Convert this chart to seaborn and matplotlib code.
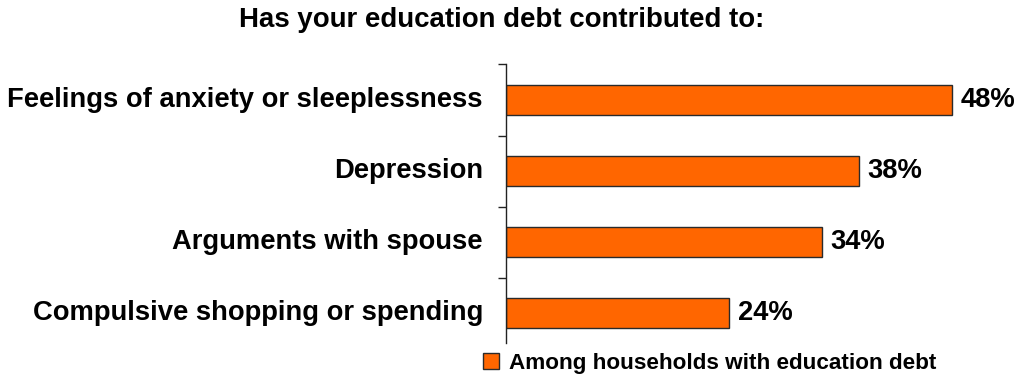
import matplotlib
matplotlib.use("Agg")
import matplotlib.pyplot as plt
import seaborn as sns
import pandas as pd
from matplotlib.patches import Patch

categories = [
    "Feelings of anxiety or sleeplessness",
    "Depression",
    "Arguments with spouse",
    "Compulsive shopping or spending",
]
values = [48, 38, 34, 24]
series_name = "Among households with education debt"
title = "Has your education debt contributed to:"

sns.set_theme(style="white")
plt.rcParams["font.family"] = ["Liberation Sans", "DejaVu Sans"]

df = pd.DataFrame({"category": categories, "value": values})

fig = plt.figure(figsize=(10.23, 3.8), dpi=100)
ax = fig.add_axes([0.4946, 0.0974, 0.5, 0.7329])

sns.barplot(data=df, x="value", y="category", orient="h", ax=ax,
            color="#FF6600", saturation=1, width=0.42,
            edgecolor="#2a2a2a", linewidth=1.0)

ax.set_xlim(0, 55)
ax.set_ylim(3.42, -0.5)
ax.set_xlabel("")
ax.set_ylabel("")
ax.set_xticks([])

# category labels drawn as text, separators as ticks between categories
ax.set_yticks([i - 0.5 for i in range(len(categories))])
ax.set_yticklabels([])
ax.tick_params(axis="y", length=6, width=1, color="#222222", direction="out", left=True)
for i, c in enumerate(categories):
    ax.text(-0.045, i, c, transform=ax.get_yaxis_transform(), ha="right", va="center",
            fontsize=19.7, fontweight="bold", color="black")

for s in ["top", "right", "bottom"]:
    ax.spines[s].set_visible(False)
ax.spines["left"].set_color("#222222")
ax.spines["left"].set_linewidth(1)

for i, v in enumerate(values):
    ax.text(v + 0.9, i, f"{v}%", ha="left", va="center",
            fontsize=19.7, fontweight="bold", color="black")

fig.text(0.4902, 0.947, title, ha="center", va="center", fontsize=19.9,
         fontweight="bold", color="black")

handles = [Patch(facecolor="#FF6600", edgecolor="#2a2a2a", linewidth=1.0, label=series_name)]
leg = fig.legend(handles=handles, loc="center left", bbox_to_anchor=(0.472, 0.044),
                 frameon=False, prop={"weight": "bold", "size": 16.2},
                 handlelength=0.72, handleheight=0.72, handletextpad=0.45,
                 borderaxespad=0, borderpad=0)
for t in leg.get_texts():
    t.set_color("black")

fig.savefig("out.png", dpi=100)
